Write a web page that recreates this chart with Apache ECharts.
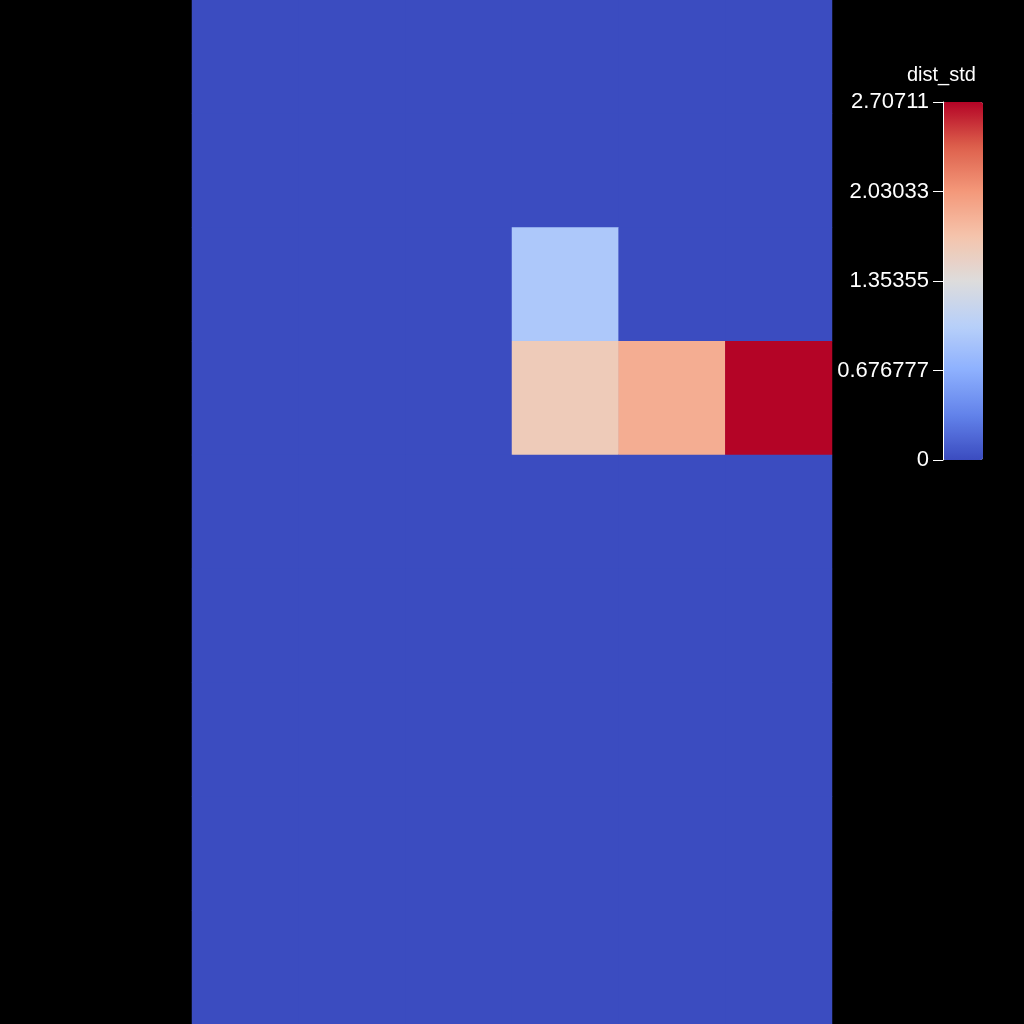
<!DOCTYPE html>
<html>
<head>
<meta charset="utf-8">
<style>
html,body{margin:0;padding:0;background:#000;}
#chart{width:1024px;height:1024px;}
</style>
<script src="https://cdn.jsdelivr.net/npm/echarts@6/dist/echarts.min.js"></script>
</head>
<body>
<div id="chart"></div>
<script>
// Columns (x) and rows (y, top to bottom)
var xCategories = ['0', '1', '2', '3', '4', '5'];
var yCategories = ['0', '1', '2', '3', '4', '5', '6', '7', '8'];
// dist_std values, one array per row (top to bottom)
var row0 = [0, 0, 0, 0, 0, 0];
var row1 = [0, 0, 0, 0, 0, 0];
var row2 = [0, 0, 0, 0.93, 0, 0];
var row3 = [0, 0, 0, 1.60, 1.87, 2.70711];
var row4 = [0, 0, 0, 0, 0, 0];
var row5 = [0, 0, 0, 0, 0, 0];
var row6 = [0, 0, 0, 0, 0, 0];
var row7 = [0, 0, 0, 0, 0, 0];
var row8 = [0, 0, 0, 0, 0, 0];
var rows = [row0, row1, row2, row3, row4, row5, row6, row7, row8];
// Colour bar
var colorMin = 0;
var colorMax = 2.70711;
var colorTickLabels = ['0', '0.676777', '1.35355', '2.03033', '2.70711'];
var colorTitle = 'dist_std';
var coolwarm = ['#3b4cc0', '#6282ea', '#8db0fe', '#b8d0f9', '#dddcdc', '#f5c4ac', '#f4987a', '#dd604c', '#b40426'];

var data = [];
rows.forEach(function (r, yi) {
  r.forEach(function (v, xi) { data.push([xi, yi, v]); });
});

var chart = echarts.init(document.getElementById('chart'), null, {renderer: 'canvas'});
var FONT = '"Liberation Sans", Arial, sans-serif';
chart.setOption({
  backgroundColor: '#000000',
  animation: false,
  title: {
    text: colorTitle,
    left: 907,
    top: 65,
    padding: 0,
    textStyle: {color: '#ffffff', fontSize: 20, fontWeight: 'normal', fontFamily: FONT}
  },
  grid: [
    {left: 192, right: 192, top: 0, bottom: 0, containLabel: false,
     show: true, backgroundColor: coolwarm[0], borderWidth: 0},
    {left: 943, top: 102, width: 40, height: 358, containLabel: false}
  ],
  xAxis: [
    {type: 'category', data: xCategories, gridIndex: 0, show: false},
    {type: 'value', gridIndex: 1, show: false, min: 0, max: 1}
  ],
  yAxis: [
    {type: 'category', data: yCategories, gridIndex: 0, show: false, inverse: true},
    {
      type: 'value', gridIndex: 1, position: 'left',
      min: colorMin, max: colorMax, interval: (colorMax - colorMin) / 4,
      axisLine: {show: true, lineStyle: {color: '#ffffff', width: 1}},
      axisTick: {show: true, length: 10, lineStyle: {color: '#ffffff', width: 1}},
      splitLine: {show: false},
      axisLabel: {
        color: '#ffffff', fontSize: 22, fontFamily: FONT, margin: 14,
        formatter: function (v, i) { return colorTickLabels[i]; }
      },
      z: 10
    }
  ],
  visualMap: {
    type: 'continuous',
    min: colorMin,
    max: colorMax,
    seriesIndex: 0,
    calculable: false,
    hoverLink: false,
    left: 943,
    top: 102,
    padding: 0,
    itemWidth: 40,
    itemHeight: 358,
    text: ['', ''],
    textGap: 0,
    showLabel: false,
    inRange: {color: coolwarm}
  },
  series: [{
    type: 'heatmap',
    xAxisIndex: 0,
    yAxisIndex: 0,
    data: data,
    label: {show: false},
    emphasis: {disabled: true},
    itemStyle: {borderWidth: 0}
  }]
});
</script>
</body>
</html>
